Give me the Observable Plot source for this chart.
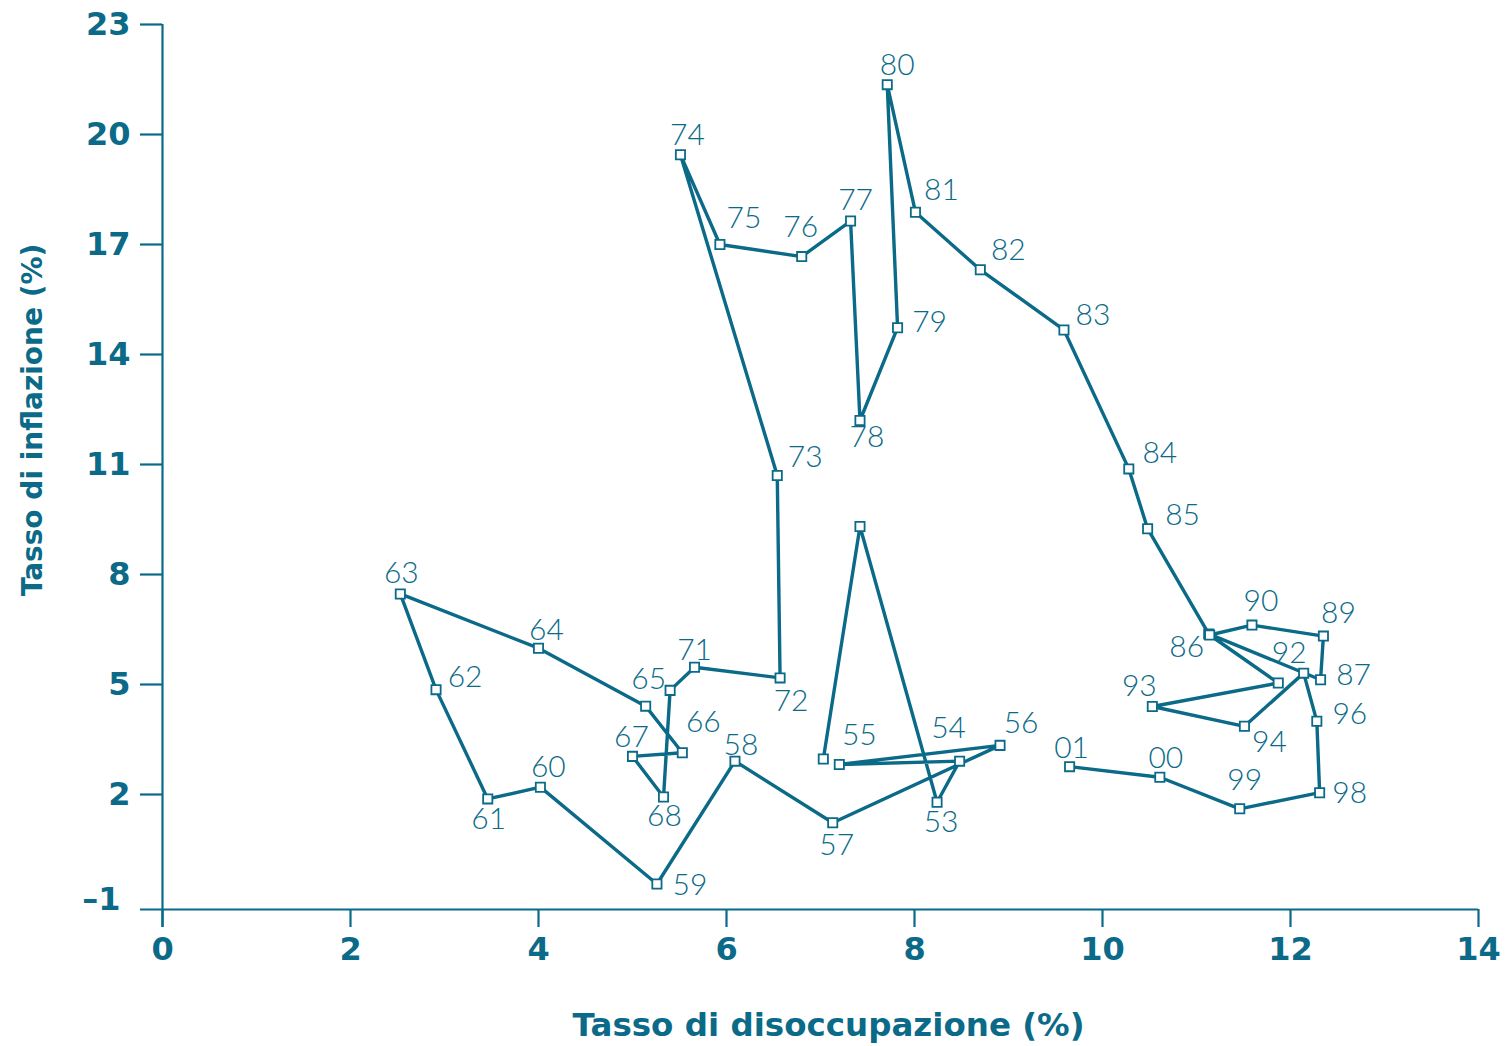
<!DOCTYPE html>
<html>
<head>
<meta charset="utf-8">
<script src="https://cdn.jsdelivr.net/npm/d3@7"></script>
<script src="https://cdn.jsdelivr.net/npm/@observablehq/plot@0.6"></script>
<style>
  html, body { margin: 0; padding: 0; background: #fff; }
  #chart svg { display: block; }
  #chart g[aria-label="x-axis tick label"] text,
  #chart g[aria-label="y-axis tick label"] text { font-weight: bold; }
</style>
</head>
<body>
<div id="chart"></div>
<script>
// ---- data ----
const years = ["51","52","53","54","55","56","57","58","59","60","61","62","63","64","65","66","67","68","70","71","72","73","74","75","76","77","78","79","80","81","82","83","84","85","86","87","89","90","91","92","93","94","95","96","98","99","00","01"];
const unemployment = [7.03,7.42,8.24,8.48,7.20,8.91,7.13,6.09,5.26,4.02,3.46,2.91,2.53,4.00,5.14,5.53,5.00,5.33,5.40,5.66,6.57,6.54,5.51,5.93,6.80,7.32,7.42,7.82,7.71,8.01,8.70,9.59,10.28,10.48,11.13,12.32,12.35,11.59,11.14,11.87,10.53,11.51,12.14,12.28,12.31,11.46,10.61,9.65];
const inflation = [2.97,9.31,1.79,2.91,2.82,3.34,1.23,2.91,-0.44,2.20,1.88,4.86,7.47,5.99,4.41,3.14,3.04,1.93,4.84,5.47,5.18,10.70,19.45,17.00,16.67,17.64,12.20,14.73,21.36,17.88,16.31,14.67,10.88,9.25,6.38,5.13,6.32,6.62,6.35,5.04,4.40,3.86,5.31,4.00,2.05,1.61,2.47,2.76];
const shownLabels = ["53","54","55","56","57","58","59","60","61","62","63","64","65","66","67","68","71","72","73","74","75","76","77","78","79","80","81","82","83","84","85","86","87","89","90","92","93","94","96","98","99","00","01"];
const xTicks = [0,2,4,6,8,10,12,14];
const yTicks = [2,5,8,11,14,17,20,23];
const yBottomTick = [-1];
const xTitle = "Tasso di disoccupazione (%)";
const yTitle = "Tasso di inflazione (%)";

// ---- layout (label placement offsets in px, not data) ----
const labelOffset = {
  "63":[1,-21],"62":[29,-12],"61":[1,20],"60":[8,-20],"59":[33,1],"58":[6,-16],"57":[4,23],
  "56":[21,-22],"55":[20,-29],"54":[-11,-33],"53":[4,20],"64":[8,-18],"65":[3,-27],"66":[21,-30],
  "67":[-1,-19],"68":[1,19],"71":[0,-17],"72":[11,23],"73":[28,-18],"74":[7,-19],"75":[24,-26],
  "76":[-1,-29],"77":[5,-21],"78":[7,17],"79":[32,-5],"80":[10,-19],"81":[26,-22],"82":[28,-19],
  "83":[29,-15],"84":[31,-16],"85":[35,-13],"86":[-22,13],"87":[33,-4],"89":[15,-23],"90":[9,-24],
  "92":[11,-30],"93":[-13,-20],"94":[25,16],"96":[33,-7],"98":[30,1],"99":[5,-28],"00":[6,-19],"01":[2,-18]
};

const data = years.map((yr, i) => ({year: yr, u: unemployment[i], p: inflation[i]}));
const C = "#0b6a88";
const W = 1509, H = 1046;
const mL = 162, mR = 31, mT = 24, mB = 137;
const yMin = 23 - (H - mB - mT) / 36.667;

const labelMarks = shownLabels.map(yr => {
  const d = data.find(e => e.year === yr);
  const [dx, dy] = labelOffset[yr];
  return Plot.text([d], {x: "u", y: "p", text: "year", dx, dy, fill: C,
    fontSize: 30, fontWeight: 300, fontFamily: "Lato, 'Open Sans', sans-serif",
    textAnchor: "middle", lineAnchor: "middle"});
});

const chart = Plot.plot({
  width: W, height: H,
  marginLeft: mL, marginRight: mR, marginTop: mT, marginBottom: mB,
  style: {fontFamily: "'DejaVu Sans', sans-serif", color: C, background: "#fff"},
  x: {domain: [0, 14]},
  y: {domain: [yMin, 23]},
  marks: [
    Plot.ruleY([yMin], {stroke: C, strokeWidth: 2.2, insetLeft: -22}),
    Plot.ruleX([0], {stroke: C, strokeWidth: 2.2, insetBottom: -18}),
    Plot.axisX({ticks: xTicks, tickSize: 18, tickPadding: 10, fontSize: 32, fontWeight: "bold", strokeWidth: 2.2, label: null, tickFormat: d => String(d)}),
    Plot.axisY({ticks: yTicks, tickSize: 22, tickPadding: 10, fontSize: 32, fontWeight: "bold", strokeWidth: 2.2, label: null, tickFormat: d => String(d)}),
    Plot.axisY({ticks: yBottomTick, tickSize: 0, tickPadding: 42, dy: -5, fontSize: 32, fontWeight: "bold", label: null, tickFormat: d => "\u2013" + Math.abs(d)}),
    Plot.line(data, {x: "u", y: "p", stroke: C, strokeWidth: 3.4, strokeLinejoin: "round"}),
    Plot.dot(data, {x: "u", y: "p", symbol: "square", r: 5.2, fill: "white", stroke: C, strokeWidth: 1.8}),
    ...labelMarks,
    Plot.text([xTitle], {frameAnchor: "bottom", dx: 8, dy: 116, fill: C, fontSize: 32.5, fontWeight: "bold", textAnchor: "middle", lineAnchor: "middle"}),
    Plot.text([yTitle], {frameAnchor: "left", dx: -129, dy: -47, rotate: -90, fill: C, fontSize: 28, fontWeight: "bold", textAnchor: "middle", lineAnchor: "middle"})
  ]
});
document.getElementById("chart").appendChild(chart);
</script>
</body>
</html>
